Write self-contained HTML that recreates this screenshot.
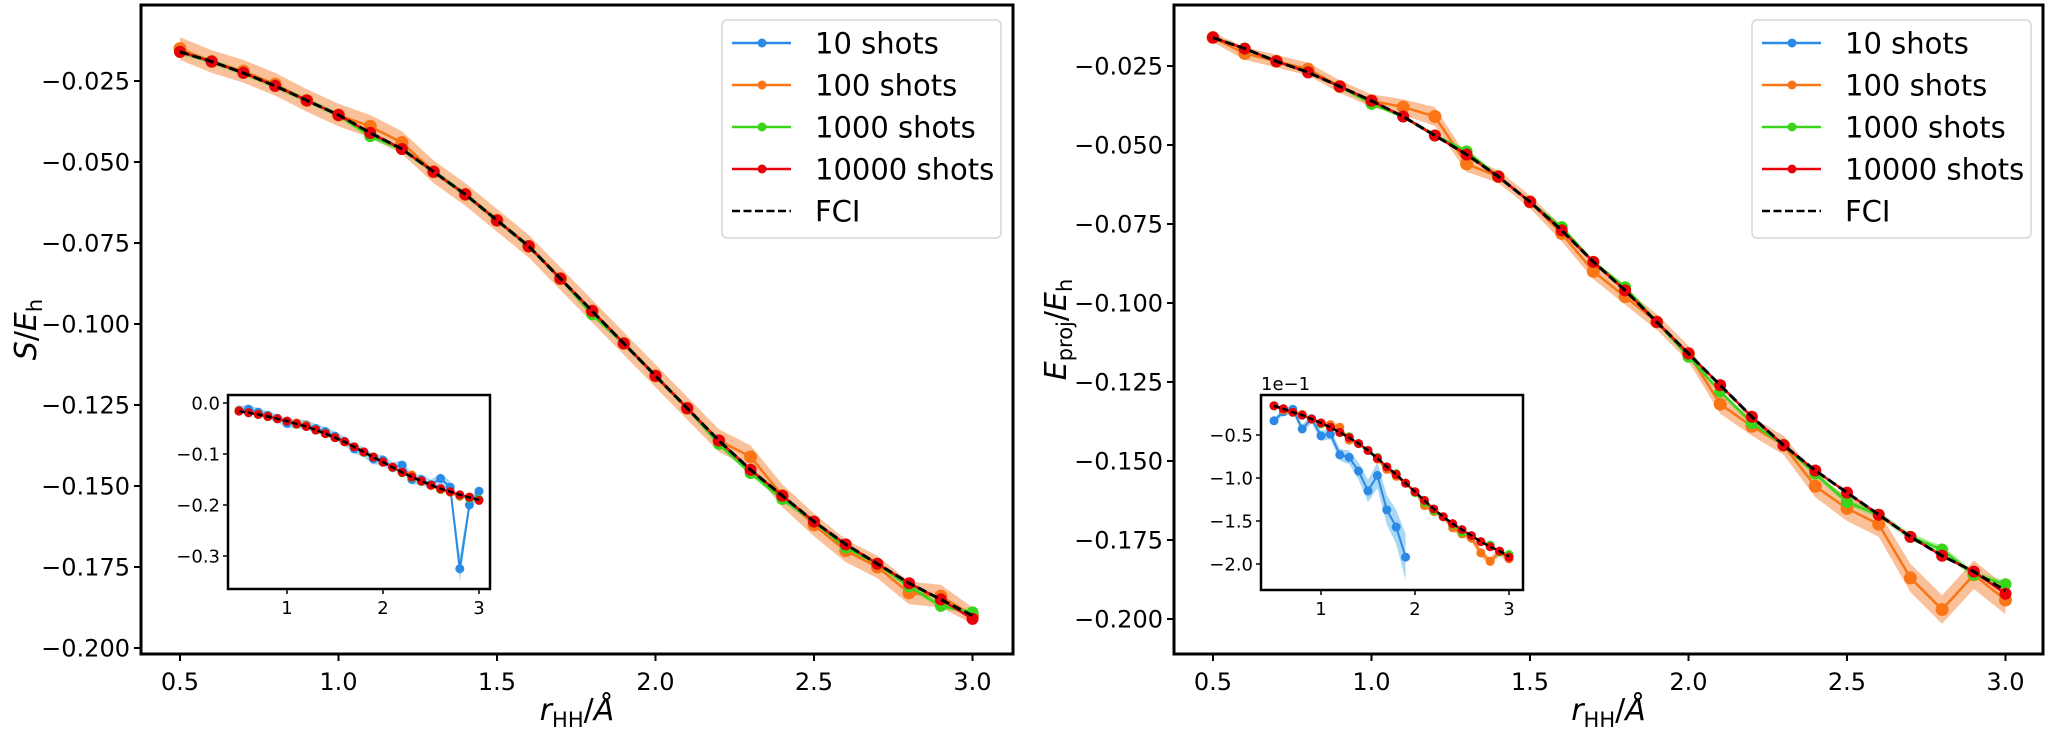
<!DOCTYPE html>
<html><head><meta charset="utf-8"><style>
body{margin:0;background:#fff;}
svg{display:block;font-family:"DejaVu Sans","Liberation Sans",sans-serif;}
</style></head><body>
<svg id="fig" width="2048" height="730" viewBox="0 0 2048 730" xmlns="http://www.w3.org/2000/svg"></svg>
<script>
const xs=[0.5,0.6,0.7,0.8,0.9,1.0,1.1,1.2,1.3,1.4,1.5,1.6,1.7,1.8,1.9,2.0,2.1,2.2,2.3,2.4,2.5,2.6,2.7,2.8,2.9,3.0];
// Left panel (S)
const sFCI=[-0.016,-0.019,-0.0225,-0.0265,-0.031,-0.0355,-0.041,-0.046,-0.053,-0.060,-0.068,-0.076,-0.086,-0.096,-0.106,-0.116,-0.126,-0.136,-0.145,-0.153,-0.161,-0.168,-0.174,-0.180,-0.185,-0.190];
const s10=[-0.014,-0.012,-0.018,-0.024,-0.03,-0.04,-0.04,-0.043,-0.05,-0.056,-0.065,-0.075,-0.09,-0.096,-0.11,-0.112,-0.126,-0.122,-0.15,-0.15,-0.16,-0.148,-0.165,-0.325,-0.2,-0.173];
const s10err=[0.008,0.008,0.008,0.008,0.008,0.009,0.009,0.009,0.009,0.009,0.009,0.009,0.009,0.01,0.01,0.01,0.01,0.01,0.01,0.01,0.01,0.01,0.012,0.025,0.012,0.01];
const s100=[-0.015,-0.019,-0.022,-0.026,-0.031,-0.0355,-0.039,-0.044,-0.053,-0.060,-0.068,-0.076,-0.086,-0.096,-0.106,-0.116,-0.126,-0.136,-0.141,-0.153,-0.162,-0.170,-0.175,-0.183,-0.184,-0.190];
const s100err=[0.0035,0.0035,0.0035,0.0035,0.0035,0.0035,0.0035,0.0035,0.0035,0.0035,0.0035,0.0035,0.0035,0.0035,0.0035,0.0035,0.0035,0.0035,0.0035,0.0035,0.0035,0.0035,0.0035,0.0035,0.0035,0.0025];
const s1000=[-0.016,-0.019,-0.0225,-0.0265,-0.031,-0.0355,-0.042,-0.046,-0.053,-0.060,-0.068,-0.076,-0.086,-0.097,-0.106,-0.116,-0.126,-0.137,-0.146,-0.154,-0.161,-0.169,-0.174,-0.181,-0.187,-0.189];
const s10000=[-0.016,-0.019,-0.0225,-0.0265,-0.031,-0.0355,-0.041,-0.046,-0.053,-0.060,-0.068,-0.076,-0.086,-0.096,-0.106,-0.116,-0.126,-0.136,-0.145,-0.153,-0.161,-0.168,-0.174,-0.180,-0.185,-0.191];
// Right panel (E_proj)
const eFCI=[-0.016,-0.0195,-0.0235,-0.027,-0.0315,-0.036,-0.041,-0.047,-0.053,-0.060,-0.068,-0.077,-0.087,-0.096,-0.106,-0.116,-0.126,-0.136,-0.145,-0.153,-0.160,-0.167,-0.174,-0.180,-0.185,-0.191];
const e10=[-0.0335,-0.023,-0.020,-0.043,-0.031,-0.051,-0.049,-0.073,-0.076,-0.092,-0.115,-0.097,-0.137,-0.157,-0.192];
const e10err=[0.003,0.004,0.004,0.005,0.005,0.006,0.006,0.007,0.008,0.01,0.013,0.015,0.017,0.02,0.027];
const e100=[-0.016,-0.021,-0.0235,-0.026,-0.0315,-0.036,-0.038,-0.041,-0.056,-0.060,-0.068,-0.078,-0.090,-0.098,-0.106,-0.116,-0.132,-0.139,-0.145,-0.158,-0.165,-0.170,-0.187,-0.197,-0.186,-0.194];
const e100err=[0.0015,0.002,0.002,0.002,0.002,0.002,0.0025,0.003,0.0025,0.002,0.002,0.0025,0.0025,0.0025,0.0025,0.0025,0.003,0.003,0.003,0.0035,0.004,0.004,0.0045,0.0045,0.0045,0.0045];
const e1000=[-0.016,-0.0195,-0.0235,-0.027,-0.0315,-0.037,-0.041,-0.047,-0.052,-0.060,-0.068,-0.076,-0.087,-0.095,-0.106,-0.117,-0.128,-0.138,-0.145,-0.154,-0.163,-0.167,-0.174,-0.178,-0.186,-0.189];
const e10000=[-0.016,-0.0195,-0.0235,-0.027,-0.0315,-0.036,-0.041,-0.047,-0.053,-0.060,-0.068,-0.077,-0.087,-0.096,-0.106,-0.116,-0.126,-0.136,-0.145,-0.153,-0.160,-0.167,-0.174,-0.180,-0.185,-0.192];
const xTicks=[0.5,1.0,1.5,2.0,2.5,3.0];
const yTicks=[-0.025,-0.050,-0.075,-0.100,-0.125,-0.150,-0.175,-0.200];
const insXTicks=[1,2,3];
const sInsYTicks=[0.0,-0.1,-0.2,-0.3];
const eInsYTicks=[-0.5,-1.0,-1.5,-2.0];
const legendLabels=["10 shots","100 shots","1000 shots","10000 shots","FCI"];

const C={b:"#2b8ae6",o:"#f97516",g:"#3ad41a",r:"#e8000b",ob:"rgba(246,140,70,0.55)",bb:"rgba(110,190,235,0.6)"};
const svg=document.getElementById('fig');
const NS="http://www.w3.org/2000/svg";
function mk(tag,attrs,parent){const e=document.createElementNS(NS,tag);for(const k in attrs)e.setAttribute(k,attrs[k]);(parent||svg).appendChild(e);return e;}
function lin(d0,d1,p0,p1){return v=>p0+(v-d0)*(p1-p0)/(d1-d0);}

function series(g,X,Y,vals,color,r,w,name){
  const pts=vals.map((v,i)=>X(xs[i]).toFixed(1)+","+Y(v).toFixed(1)).join(" ");
  const pl=mk('polyline',{points:pts,fill:"none",stroke:color,"stroke-width":w,"stroke-linejoin":"round"},g);
  
  
  vals.forEach((v,i)=>{const c=mk('circle',{cx:X(xs[i]),cy:Y(v),r:r,fill:color},g);
    
    });
}
function band(g,X,Y,vals,err,color,name,scale){
  scale=scale||1;
  const up=vals.map((v,i)=>X(xs[i]).toFixed(1)+","+Y(v+err[i]*scale).toFixed(1));
  const dn=vals.map((v,i)=>X(xs[i]).toFixed(1)+","+Y(v-err[i]*scale).toFixed(1)).reverse();
  const p=mk('polygon',{points:up.concat(dn).join(" "),fill:color,stroke:"none"},g);
  
  
}
function fci(g,X,Y,vals,w,dash){
  const pts=vals.map((v,i)=>X(xs[i]).toFixed(1)+","+Y(v).toFixed(1)).join(" ");
  const p=mk('polyline',{points:pts,fill:"none",stroke:"#000","stroke-width":w,"stroke-dasharray":dash},g);
  
  
}
function scl(a,k){return a.map(v=>v*k);}

function panel(P){
  const g=mk('g',{});
  
  
  const X=lin(0.5,3.0,P.x05,P.x05+2.5*P.xs);
  const Y=lin(-0.2,-0.025,P.y200,P.y025);
  const cp=mk('clipPath',{id:P.name+'-clip'},g);
  mk('rect',{x:P.L,y:P.T,width:P.R-P.L,height:P.B-P.T},cp);
  const dg=mk('g',{'clip-path':'url(#'+P.name+'-clip)'},g);
  band(dg,X,Y,P.o,P.oerr,C.ob,'band-100-shots');
  band(dg,X,Y,P.gr,P.oerr.map(e=>e*0.25),"rgba(90,220,60,0.5)",'band-1000-shots');
  series(dg,X,Y,P.o,C.o,6.5,2.5,'series-100-shots');
  series(dg,X,Y,P.gr,C.g,6,2.5,'series-1000-shots');
  series(dg,X,Y,P.rd,C.r,6,2.5,'series-10000-shots');
  fci(dg,X,Y,P.f,3,"9,4");
  const fr=mk('rect',{x:P.L,y:P.T,width:P.R-P.L,height:P.B-P.T,fill:"none",stroke:"#000","stroke-width":3},g);
  
  
  xTicks.forEach(t=>{const x=X(t);mk('line',{x1:x,x2:x,y1:P.B,y2:P.B+7,stroke:"#000","stroke-width":2},g);
    const tx=mk('text',{x:x,y:P.B+36,"font-size":24,"text-anchor":"middle"},g);tx.textContent=t.toFixed(1);
    
    });
  yTicks.forEach(t=>{const y=Y(t);mk('line',{x1:P.L-7,x2:P.L,y1:y,y2:y,stroke:"#000","stroke-width":2},g);
    const tx=mk('text',{x:P.L-11,y:y+8.5,"font-size":24,"text-anchor":"end"},g);tx.textContent="\u2212"+Math.abs(t).toFixed(3);
    
    });
  const xl=mk('text',{x:(P.L+P.R)/2,y:720,"font-size":30,"text-anchor":"middle"},g);
  xl.innerHTML='<tspan font-style="italic">r</tspan><tspan font-size="21" dy="7">HH</tspan><tspan dy="-7">/</tspan><tspan font-style="italic">Å</tspan>';
  
  
  const yl=mk('text',{x:0,y:0,"font-size":30,"text-anchor":"middle",transform:`translate(${P.ylx},${(P.T+P.B)/2}) rotate(-90)`},g);
  yl.innerHTML=P.ylab;
  
  
  const lg=mk('g',{},g);
  
  
  const lx=P.R-291;
  mk('rect',{x:lx,y:20,width:279,height:218,rx:5,fill:"rgba(255,255,255,0.85)",stroke:"#d6d6d6","stroke-width":1.5},lg);
  const cols=[C.b,C.o,C.g,C.r,"#000"];
  legendLabels.forEach((lab,i)=>{
    const y=43+i*42;
    const e=mk('g',{},lg);
    
    
    if(i<4){mk('line',{x1:lx+10,x2:lx+69,y1:y,y2:y,stroke:cols[i],"stroke-width":2.5},e);
      mk('circle',{cx:lx+40,cy:y,r:4.5,fill:cols[i]},e);}
    else mk('line',{x1:lx+10,x2:lx+69,y1:y,y2:y,stroke:"#000","stroke-width":2.5,"stroke-dasharray":"8,3.5"},e);
    const t=mk('text',{x:lx+93,y:y+10.5,"font-size":29},e);t.textContent=lab;
  });
  const I=P.ins;
  const ig=mk('g',{},g);
  
  
  mk('rect',{x:I.L,y:I.T,width:I.R-I.L,height:I.B-I.T,fill:"#fff"},ig);
  const IX=lin(1,2,I.x1,I.x2);
  const IY=lin(I.v0,I.v1,I.y0,I.y1);
  const icp=mk('clipPath',{id:P.name+'-iclip'},ig);
  mk('rect',{x:I.L,y:I.T,width:I.R-I.L,height:I.B-I.T},icp);
  const idg=mk('g',{'clip-path':'url(#'+P.name+'-iclip)'},ig);
  const k=I.k;
  band(idg,IX,IY,scl(P.b,k),P.berr,C.bb,'inset-band-10-shots',k);
  band(idg,IX,IY,scl(P.o,k),P.oerr,C.ob,'inset-band-100-shots',k);
  series(idg,IX,IY,scl(P.b,k),C.b,4.5,2,'inset-series-10-shots');
  series(idg,IX,IY,scl(P.o,k),C.o,4.5,2,'inset-series-100-shots');
  series(idg,IX,IY,scl(P.gr,k),C.g,4.5,2,'inset-series-1000-shots');
  series(idg,IX,IY,scl(P.rd,k),C.r,4.5,2,'inset-series-10000-shots');
  fci(idg,IX,IY,scl(P.f,k),2.5,"6,3");
  mk('rect',{x:I.L,y:I.T,width:I.R-I.L,height:I.B-I.T,fill:"none",stroke:"#000","stroke-width":2.5},ig);
  insXTicks.forEach(t=>{const x=IX(t);mk('line',{x1:x,x2:x,y1:I.B,y2:I.B+5,stroke:"#000","stroke-width":1.5},ig);
    const tx=mk('text',{x:x,y:I.B+25,"font-size":18,"text-anchor":"middle"},ig);tx.textContent=t;
    
    });
  I.yt.forEach(t=>{const y=IY(t);mk('line',{x1:I.L-5,x2:I.L,y1:y,y2:y,stroke:"#000","stroke-width":1.5},ig);
    const tx=mk('text',{x:I.L-8,y:y+6.5,"font-size":18,"text-anchor":"end"},ig);
    tx.textContent=(t<0?"\u2212":"")+Math.abs(t).toFixed(1);
    
    });
  if(I.off){const t=mk('text',{x:I.L,y:I.T-5,"font-size":18},ig);t.textContent="1e\u22121";
    
    }
}

panel({name:'left-panel',L:141,R:1013,T:5,B:654,x05:180,xs:317,y200:648,y025:81,ylx:36,
  ylab:'<tspan font-style="italic">S</tspan>/<tspan font-style="italic">E</tspan><tspan font-size="21" dy="6">h</tspan>',
  f:sFCI,b:s10,berr:s10err,o:s100,oerr:s100err,gr:s1000,rd:s10000,
  ins:{L:228,R:490,T:395,B:589,x1:287,x2:383,v0:0,v1:-0.1,y0:403,y1:454,k:1,yt:sInsYTicks,off:false}});
panel({name:'right-panel',L:1174,R:2043,T:5,B:654,x05:1213,xs:317,y200:619,y025:66,ylx:1066,
  ylab:'<tspan font-style="italic">E</tspan><tspan font-size="21" dy="6">proj</tspan><tspan dy="-6">/</tspan><tspan font-style="italic">E</tspan><tspan font-size="21" dy="6">h</tspan>',
  f:eFCI,b:e10,berr:e10err,o:e100,oerr:e100err,gr:e1000,rd:e10000,
  ins:{L:1261,R:1523,T:395,B:590,x1:1321,x2:1415,v0:-0.5,v1:-1.0,y0:435,y1:478,k:10,yt:eInsYTicks,off:true}});
</script>
</body></html>
